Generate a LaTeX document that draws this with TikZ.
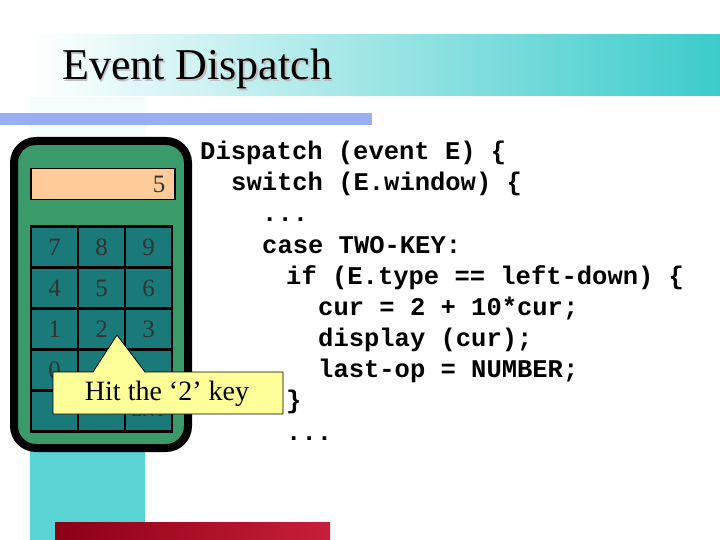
\documentclass[tikz,border=0pt]{standalone}
\usepackage{fontspec}
\setmainfont{Liberation Serif}
\setmonofont{Liberation Mono}
\begin{document}
\begin{tikzpicture}[x=1pt,y=-1pt,
  key/.style={draw=black,line width=2.5pt,fill=keyteal,minimum width=47pt,minimum height=41pt,inner sep=0pt,font=\fontsize{25}{25}\selectfont,text=black!80},
  code/.style={anchor=base west,inner sep=0pt,font=\ttfamily\bfseries\fontsize{25.5}{26}\selectfont}]
\definecolor{keyteal}{HTML}{1A7A7A}
\definecolor{calcgreen}{HTML}{3A9A6A}
\definecolor{banner}{HTML}{3CCBCB}
\useasboundingbox (0,0) rectangle (720,540);
\fill[white] (0,0) rectangle (720,540);
\fill[cyan!4] (30,97) rectangle (145,440);
\fill[banner!85] (30,440) rectangle (145,540);
\shade[left color=white,right color=banner] (30,35) rectangle (720,96);
\fill[fill={rgb,255:red,154;green,174;blue,245}] (0,113) rectangle (372,125);
\shade[left color={rgb,255:red,140;green,0;blue,20},right color={rgb,255:red,200;green,30;blue,60}] (55,522) rectangle (330,540);
\node[anchor=base west,inner sep=0pt,text=gray!50,font=\fontsize{44}{44}\selectfont] (titleshadow) at (63.5,81.5) {Event Dispatch};
\node[anchor=base west,inner sep=0pt,font=\fontsize{44}{44}\selectfont] (title) at (62,80) {Event Dispatch};
% calculator
\draw[line width=8pt,fill=calcgreen,rounded corners=22pt] (14,141) rectangle (188,448);
\node[draw=black,line width=1.5pt,fill={rgb,255:red,255;green,204;blue,153},minimum width=144pt,minimum height=31pt,inner sep=0pt,anchor=north west] (disp) at (30,168) {};
\node[anchor=east,font=\fontsize{25}{25}\selectfont,text=black!80] (dval) at (169,184) {5};
\node[key] (k7) at (54.5,247) {7};
\node[key] (k8) at (101.5,247) {8};
\node[key] (k9) at (148.5,247) {9};
\node[key] (k4) at (54.5,288) {4};
\node[key] (k5) at (101.5,288) {5};
\node[key] (k6) at (148.5,288) {6};
\node[key] (k1) at (54.5,329) {1};
\node[key] (k2) at (101.5,329) {2};
\node[key] (k3) at (148.5,329) {3};
\node[key] (k0) at (54.5,370) {0};
\node[key] (kx) at (101.5,370) {};
\node[key] (ky) at (148.5,370) {};
\node[key] (kz) at (54.5,411) {};
\node[key] (kw) at (101.5,411) {};
\node[key,font=\fontsize{18}{18}\selectfont] (ent) at (148.5,411) {ENT};
% callout
\draw[black,line width=0.8pt,fill={rgb,255:red,255;green,255;blue,153}] (53,372) -- (93,372) -- (117,335) -- (145,372) -- (283,372) -- (283,414) -- (53,414) -- cycle;
\node[font=\fontsize{28}{28}\selectfont] (callout) at (167,394) {Hit the ‘2’ key};
% code
\node[code] (c1) at (200,160) {Dispatch (event E) \{};
\node[code] (c2) at (231,191) {switch (E.window) \{};
\node[code] (c3) at (262,222) {...};
\node[code] (c4) at (262,253) {case TWO-KEY:};
\node[code] (c5) at (286,284) {if (E.type == left-down) \{};
\node[code] (c6) at (318,315) {cur = 2 + 10*cur;};
\node[code] (c7) at (318,346) {display (cur);};
\node[code] (c8) at (318,377) {last-op = NUMBER;};
\node[code] (c9) at (286,408) {\}};
\node[code] (c10) at (286,440) {...};
\end{tikzpicture}
\end{document}
